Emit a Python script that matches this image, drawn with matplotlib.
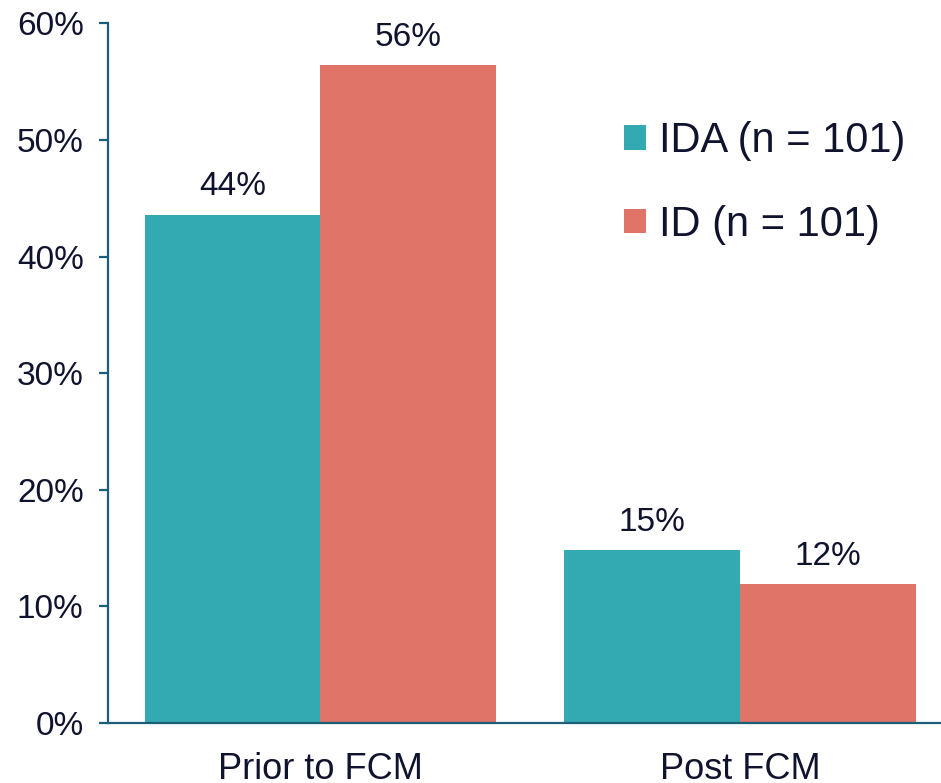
import matplotlib
matplotlib.use("Agg")
import matplotlib.pyplot as plt
import numpy as np

plt.rcParams['font.family'] = ['Liberation Sans', 'DejaVu Sans']

categories = ["Prior to FCM", "Post FCM"]
series_names = ["IDA (n = 101)", "ID (n = 101)"]
ida_values = [43.6, 14.8]
id_values = [56.4, 11.9]
y_ticks = [0, 10, 20, 30, 40, 50, 60]

teal = "#33AAB2"
salmon = "#E07468"
text_color = "#10132E"
axis_color = "#1B5E78"

fig = plt.figure(figsize=(9.41, 7.83), dpi=100)
ax = fig.add_axes([0.1148, 0.0766, 0.8852, 0.8934])

x = np.arange(len(categories))
width = 0.419
bars_ida = ax.bar(x - width / 2, ida_values, width, color=teal, label=series_names[0])
bars_id = ax.bar(x + width / 2, id_values, width, color=salmon, label=series_names[1])

for bars, vals in ((bars_ida, ida_values), (bars_id, id_values)):
    for b, v in zip(bars, vals):
        ax.annotate(f"{v:.0f}%", (b.get_x() + b.get_width() / 2, v),
                    xytext=(0, 9), textcoords="offset points",
                    ha="center", va="bottom", fontsize=24, color=text_color)

ax.set_xlim(-0.506, 1.479)
ax.set_ylim(0, 60)
ax.set_yticks(y_ticks)
ax.set_yticklabels([f"{t}%" for t in y_ticks])
ax.set_xticks(x)
ax.set_xticklabels(categories)

for side in ("top", "right"):
    ax.spines[side].set_visible(False)
for side in ("left", "bottom"):
    ax.spines[side].set_color(axis_color)
    ax.spines[side].set_linewidth(1.6)

ax.tick_params(axis="y", direction="out", length=6.5, width=1.6, color=axis_color,
               labelsize=24, labelcolor=text_color, pad=11)
ax.tick_params(axis="x", length=0, labelsize=26, labelcolor=text_color, pad=21)

leg = ax.legend(loc="upper left", bbox_to_anchor=(624 / 941, 1 - 121 / 783),
                bbox_transform=fig.transFigure, frameon=False, fontsize=30,
                handlelength=0.53, handleheight=0.53, handletextpad=0.31,
                labelspacing=1.05, borderpad=0, borderaxespad=0)
for t in leg.get_texts():
    t.set_color(text_color)

fig.savefig("out.png", dpi=100)
